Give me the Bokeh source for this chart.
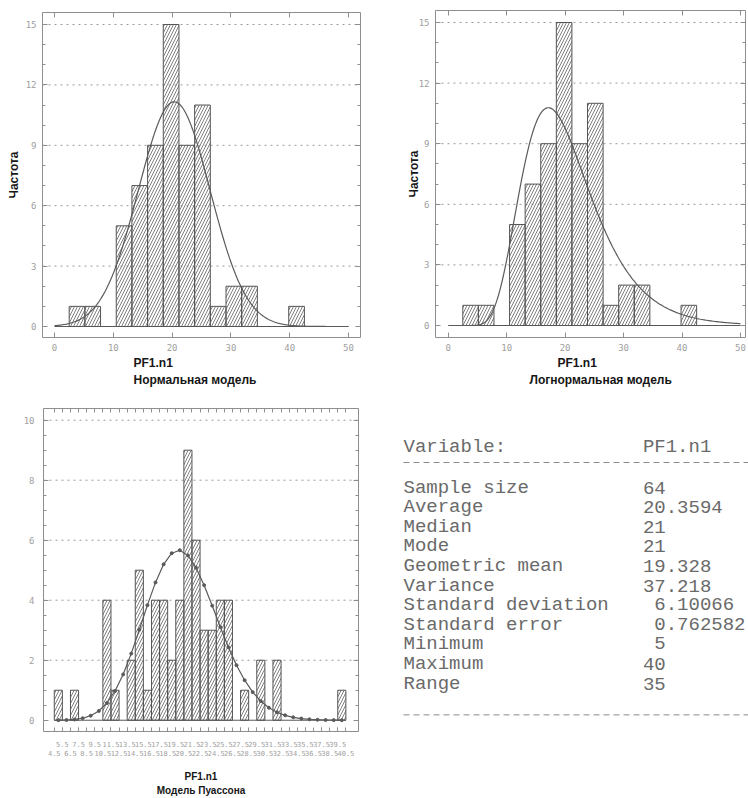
import math
import numpy as np
from bokeh.plotting import figure
from bokeh.layouts import column, row
from bokeh.models import FixedTicker, LinearAxis, Title, PrintfTickFormatter, Range1d
from bokeh.core.properties import value
from bokeh.embed import file_html
from bokeh.resources import INLINE

# Observed values of PF1.n1 and how many times each occurs (n = 64)
pf_values = [5, 7, 11, 12, 14, 15, 16, 17, 18, 19, 20, 21, 22, 23, 24, 25, 26, 28, 30, 32, 40]
pf_counts = [1, 1, 4, 1, 2, 5, 1, 4, 4, 2, 4, 9, 6, 3, 3, 4, 4, 1, 2, 2, 1]

# Class frequencies for the continuous fits: 15 classes from 2.5 to 42.5
class_lower = 2.5
class_upper = 42.5
class_counts = [1, 1, 0, 5, 7, 9, 15, 9, 11, 1, 2, 2, 0, 0, 1]

# Axis ticks
cont_x_ticks = [0, 10, 20, 30, 40, 50]
cont_y_ticks = [0, 3, 6, 9, 12, 15]
pois_y_ticks = [0, 2, 4, 6, 8, 10]

# Summary statistics table (a leading space keeps the column layout of the listing)
NBSP = "\u00a0"
stat_names = ["Sample size", "Average", "Median", "Mode", "Geometric mean", "Variance",
              "Standard deviation", "Standard error", "Minimum", "Maximum", "Range"]
stat_values = ["64", "20.3594", "21", "21", "19.328", "37.218",
               NBSP + "6.10066", NBSP + "0.762582", NBSP + "5", "40", "35"]

FRAME = "#8e8e8e"
TICK_LABEL = "#a0a0a0"
BAR_LINE = "#555555"
HATCH = "#707070"
CURVE = "#5a5a5a"
GRID = "#9a9a9a"
TICK_FONT = "DejaVu Sans Mono"
TITLE_FONT = "Liberation Sans"

sample = np.repeat(np.array(pf_values, dtype=float), pf_counts)
n = sample.size
mean = sample.mean()
sd = sample.std(ddof=1)
log_mean = np.log(sample).mean()
log_sd = np.log(sample).std(ddof=1)
edges = np.linspace(class_lower, class_upper, len(class_counts) + 1)
class_width = edges[1] - edges[0]


def tick_axis(ticks, minor, labels, major_len, minor_len, standoff=5, font_px="9px", fmt=None):
    ax = LinearAxis(ticker=FixedTicker(ticks=ticks, minor_ticks=minor))
    ax.axis_line_color = None
    ax.major_tick_in = major_len
    ax.major_tick_out = 0
    ax.minor_tick_in = minor_len
    ax.minor_tick_out = 0
    ax.major_tick_line_color = FRAME
    ax.minor_tick_line_color = FRAME
    if fmt is not None:
        ax.formatter = fmt
    if labels:
        ax.major_label_text_font = TICK_FONT
        ax.major_label_text_font_size = font_px
        ax.major_label_text_color = TICK_LABEL
        ax.major_label_standoff = standoff
    else:
        # tick marks only: the labels are not painted
        ax.major_label_text_font_size = "1px"
        ax.major_label_text_color = None
        ax.major_label_standoff = 0
    return ax


def bold_label(ax, text, size, standoff):
    ax.axis_label = text
    ax.axis_label_text_font = TITLE_FONT
    ax.axis_label_text_font_size = size
    ax.axis_label_text_font_style = "bold"
    ax.axis_label_text_color = "#161616"
    ax.axis_label_standoff = standoff


def base_figure(width, height, xr, yr, borders):
    left, right, top, bottom = borders
    p = figure(width=width, height=height, x_range=xr, y_range=yr,
               output_backend="svg", toolbar_location=None,
               x_axis_location=None, y_axis_location=None,
               min_border_left=left, min_border_right=right,
               min_border_top=top, min_border_bottom=bottom)
    p.frame_align = False
    p.outline_line_color = FRAME
    p.outline_line_width = 1
    p.background_fill_color = "white"
    p.border_fill_color = "white"
    p.xgrid.visible = False
    p.ygrid.visible = False
    return p


def title_below(p, text, offset, size="12px", standoff=0):
    p.add_layout(Title(text=text, align="left", offset=offset, standoff=standoff,
                       text_font=TITLE_FONT, text_font_size=size,
                       text_font_style="bold", text_color="#161616"), "below")


def hist_bars(p, left, right, top):
    p.quad(left=left, right=right, top=top, bottom=0,
           fill_color=None, line_color=BAR_LINE, line_width=1,
           hatch_pattern="/", hatch_color=HATCH, hatch_scale=6, hatch_weight=0.9)


def grid_lines(p, xr, ticks):
    for t in [t for t in ticks if t > 0]:
        p.line(x=[xr.start, xr.end], y=[t, t], line_color=GRID, line_dash="2 4", line_width=1)


def continuous_panel(width, height, xr, yr, borders, curve_y, curve_x, y_label_standoff):
    p = base_figure(width, height, xr, yr, borders)
    grid_lines(p, xr, cont_y_ticks)
    p.line(x=[cont_x_ticks[0], cont_x_ticks[-1]], y=[0, 0], line_color=CURVE, line_width=1)
    hist_bars(p, edges[:-1], edges[1:], class_counts)
    p.line(x=curve_x, y=curve_y, line_color=CURVE, line_width=1.2)

    y_minor = list(range(cont_y_ticks[0], cont_y_ticks[-1] + 1))
    bottom = tick_axis(cont_x_ticks, [], True, 5, 0, standoff=6)
    top = tick_axis(cont_x_ticks, [], False, 5, 0)
    left = tick_axis(cont_y_ticks, y_minor, True, 5, 3, standoff=6)
    right = tick_axis(cont_y_ticks, y_minor, False, 5, 3)
    bold_label(left, "Частота", "12px", y_label_standoff)
    p.add_layout(bottom, "below")
    p.add_layout(top, "above")
    p.add_layout(left, "left")
    p.add_layout(right, "right")
    return p


curve_x = np.linspace(cont_x_ticks[0], cont_x_ticks[-1], 251)
normal_y = n * class_width * np.exp(-0.5 * ((curve_x - mean) / sd) ** 2) / (sd * math.sqrt(2 * math.pi))
lx = curve_x[1:]
lognormal_y = n * class_width * np.exp(-0.5 * ((np.log(lx) - log_mean) / log_sd) ** 2) / (lx * log_sd * math.sqrt(2 * math.pi))

# Normal fit
p1 = continuous_panel(374, 395, Range1d(-2.04, 52.04), Range1d(-0.546, 15.596),
                      (42, 14, 12, 58), normal_y, curve_x, 2)
title_below(p1, "PF1.n1", 91)
title_below(p1, "Нормальная модель", 91, standoff=2)

# Lognormal fit
p2 = continuous_panel(374, 395, Range1d(-2.17, 50.86), Range1d(-0.594, 15.594),
                      (61, 3, 10, 58), lognormal_y, lx, -5)
title_below(p2, "PF1.n1", 122)
title_below(p2, "Логнормальная модель", 94, standoff=2)

# Poisson fit
p3_x = Range1d(3.17, 42.06)
p3 = base_figure(374, 403, p3_x, Range1d(-0.375, 10.39), (43, 16, 13, 65))
grid_lines(p3, p3_x, pois_y_ticks)
k_lo, k_hi = min(pf_values), max(pf_values)
bounds = [k + 0.5 for k in range(k_lo - 1, k_hi + 1)]
p3.line(x=[bounds[0], bounds[-1]], y=[0, 0], line_color=CURVE, line_width=1)
hist_bars(p3, [v - 0.5 for v in pf_values], [v + 0.5 for v in pf_values], pf_counts)
ks = np.arange(k_lo, k_hi + 1)
pois_y = np.array([n * math.exp(k * math.log(mean) - mean - math.lgamma(k + 1)) for k in ks])
p3.line(x=ks, y=pois_y, line_color=CURVE, line_width=1.2)
p3.scatter(x=ks, y=pois_y, size=3, color=CURVE)

row_top = bounds[1::2]
row_bottom = bounds[0::2]
fmt = PrintfTickFormatter(format="%.1f")
ax_b1 = tick_axis(row_top, bounds, True, 4, 4, standoff=9, font_px="7px", fmt=fmt)
ax_b2 = tick_axis(row_bottom, [], True, 0, 0, standoff=0, font_px="7px", fmt=fmt)
bold_label(ax_b2, "PF1.n1", "10px", 12)
ax_b3 = tick_axis([], [], False, 0, 0)
bold_label(ax_b3, "Модель Пуассона", "10px", 0)
ax_t = tick_axis(bounds, [], False, 4, 0)
y_minor = [v / 2 for v in range(0, 21)]
ax_l = tick_axis(pois_y_ticks, y_minor, True, 5, 3, standoff=9)
ax_r = tick_axis(pois_y_ticks, y_minor, False, 5, 3)
p3.add_layout(ax_b1, "below")
p3.add_layout(ax_b2, "below")
p3.add_layout(ax_b3, "below")
p3.add_layout(ax_t, "above")
p3.add_layout(ax_l, "left")
p3.add_layout(ax_r, "right")

# Statistics table
p4 = figure(width=374, height=403, x_range=Range1d(0, 374), y_range=Range1d(403, 0),
            output_backend="svg", toolbar_location=None,
            x_axis_location=None, y_axis_location=None,
            min_border_left=0, min_border_right=0, min_border_top=0, min_border_bottom=0)
p4.frame_align = False
p4.outline_line_color = None
p4.xgrid.visible = False
p4.ygrid.visible = False
char_w = 11.4
text_x = 29
value_x = text_x + 21 * char_w
head_y, rule1_y, first_row, step = 51, 67, 92, 19.6
mono = value("Liberation Mono")
TABLE_TEXT = "#6a6a6a"
TABLE_SIZE = "19px"
p4.text(x=[text_x, value_x], y=[head_y, head_y], text=["Variable:", "PF1.n1"],
        text_font=mono, text_font_size=TABLE_SIZE, text_baseline="middle", text_color=TABLE_TEXT)
rows_y = [first_row + i * step for i in range(len(stat_names))]
p4.text(x=[text_x] * len(stat_names), y=rows_y, text=stat_names,
        text_font=mono, text_font_size=TABLE_SIZE, text_baseline="middle", text_color=TABLE_TEXT)
p4.text(x=[value_x] * len(stat_values), y=rows_y, text=stat_values,
        text_font=mono, text_font_size=TABLE_SIZE, text_baseline="middle", text_color=TABLE_TEXT)
rule2_y = rows_y[-1] + 1.6 * step
for yy in (rule1_y, rule2_y):
    p4.line(x=[text_x, 374], y=[yy, yy], line_color="#8a8a8a", line_dash="6 4", line_width=1)

layout = column(row(p1, p2, spacing=0), row(p3, p4, spacing=0), spacing=0)
open("out.html", "w").write(file_html(layout, INLINE))
